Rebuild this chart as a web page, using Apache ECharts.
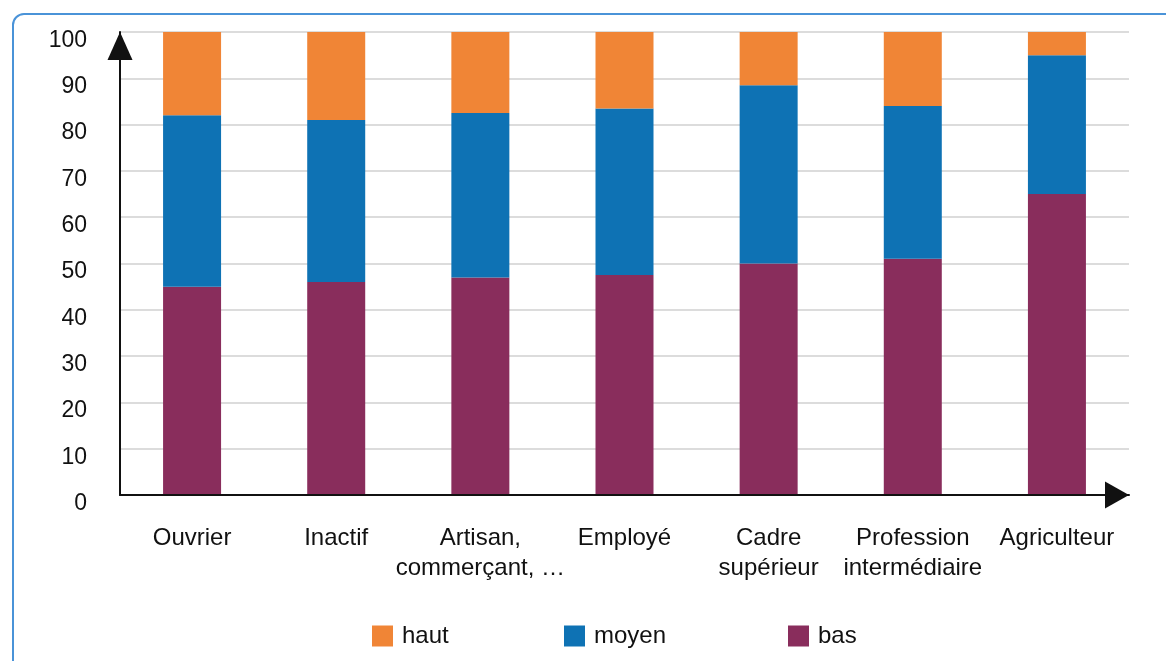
<!DOCTYPE html>
<html>
<head>
<meta charset="utf-8">
<script src="https://cdn.jsdelivr.net/npm/echarts@6/dist/echarts.min.js"></script>
<style>
html,body{margin:0;padding:0;background:#fff;}
#chart{width:1166px;height:661px;}
</style>
</head>
<body>
<div id="chart"></div>
<script>
const categories = ['Ouvrier', 'Inactif', 'Artisan,\ncommerçant, …', 'Employé', 'Cadre\nsupérieur', 'Profession\nintermédiaire', 'Agriculteur'];
const bas = [45, 46, 47, 47.5, 50, 51, 65];
const moyen = [37, 35, 35.5, 36, 38.5, 33, 30];
const haut = [18, 19, 17.5, 16.5, 11.5, 16, 5];
const yTicks = [0, 10, 20, 30, 40, 50, 60, 70, 80, 90, 100];
const legendNames = ['haut', 'moyen', 'bas'];

const FONT = "'Liberation Sans', Arial, sans-serif";
const colors = { haut: '#F08536', moyen: '#0E72B4', bas: '#892D5C' };
const legendLeft = [372, 564, 788];

const legendStyle = {
  top: 624,
  padding: 0,
  itemWidth: 21,
  itemHeight: 21,
  icon: 'rect',
  textStyle: { fontFamily: FONT, fontSize: 24, color: '#111', padding: [0, 0, 0, 4] }
};

const chart = echarts.init(document.getElementById('chart'), null, { renderer: 'canvas' });
chart.setOption({
  animation: false,
  backgroundColor: '#ffffff',
  textStyle: { fontFamily: FONT },
  graphic: [{
    type: 'rect',
    z: -10,
    shape: { x: 13, y: 14, width: 1200, height: 700, r: 11 },
    style: { fill: 'none', stroke: '#4A93D8', lineWidth: 2 }
  }],
  grid: { left: 120, right: 37, top: 32, bottom: 166, containLabel: false },
  legend: legendNames.map(function (n, i) {
    return Object.assign({}, legendStyle, { data: [n], left: legendLeft[i] });
  }),
  xAxis: {
    type: 'category',
    data: categories,
    z: 5,
    axisTick: { show: false },
    axisLine: {
      show: true,
      symbol: ['none', 'triangle'],
      symbolSize: [27, 24],
      symbolOffset: [0, -12],
      lineStyle: { color: '#111', width: 2 }
    },
    axisLabel: {
      interval: 0,
      margin: 28,
      fontSize: 24,
      lineHeight: 30,
      color: '#111',
      fontFamily: FONT
    }
  },
  yAxis: {
    type: 'value',
    min: 0,
    max: 100,
    interval: 10,
    axisTick: { show: false },
    axisLine: {
      show: true,
      symbol: ['none', 'triangle'],
      symbolSize: [25, 28],
      symbolOffset: [0, -14],
      lineStyle: { color: '#111', width: 2 }
    },
    splitLine: { show: true, lineStyle: { color: '#dcdcdc', width: 2 } },
    axisLabel: {
      margin: 33,
      color: '#111',
      fontFamily: FONT,
      fontSize: 23,
      formatter: function (v) { return yTicks.indexOf(v) >= 0 ? '{t|' + v + '}' : ''; },
      rich: {
        t: { fontSize: 23, fontFamily: FONT, color: '#111', padding: [17, 0, 0, 0] }
      }
    }
  },
  series: [
    { name: 'bas', type: 'bar', stack: 'total', data: bas, barWidth: 58, itemStyle: { color: colors.bas } },
    { name: 'moyen', type: 'bar', stack: 'total', data: moyen, barWidth: 58, itemStyle: { color: colors.moyen } },
    { name: 'haut', type: 'bar', stack: 'total', data: haut, barWidth: 58, itemStyle: { color: colors.haut } }
  ]
});
</script>
</body>
</html>
